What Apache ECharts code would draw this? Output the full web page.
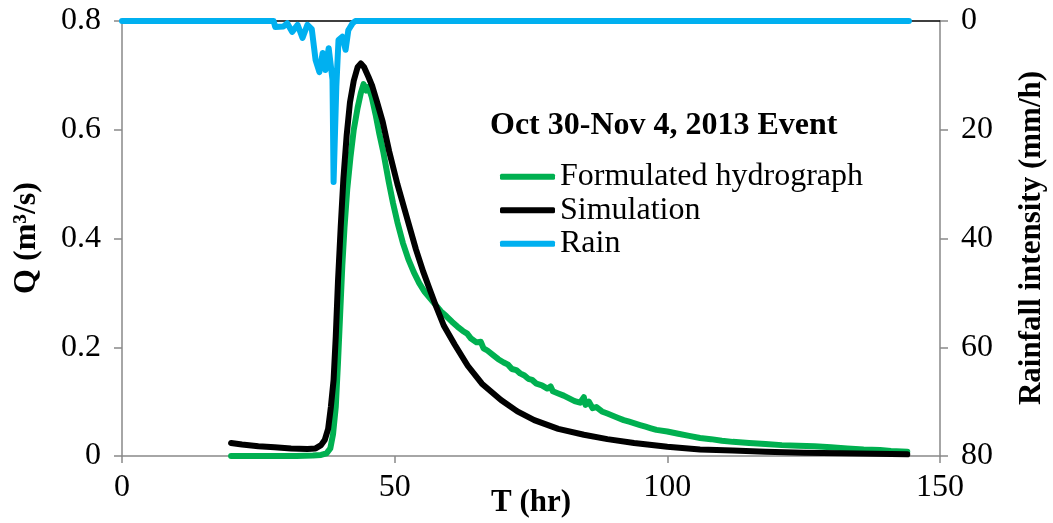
<!DOCTYPE html>
<html>
<head>
<meta charset="utf-8">
<script src="https://cdn.jsdelivr.net/npm/echarts@6/dist/echarts.min.js"></script>
<style>
html,body{margin:0;padding:0;background:#fff;}
#chart{width:1053px;height:523px;}
</style>
</head>
<body>
<div id="chart"></div>
<script>
// ---- data ----
const xTicks = [0, 50, 100, 150];
const qTicks = [0, 0.2, 0.4, 0.6, 0.8];
const rainTicks = [0, 20, 40, 60, 80];
const titleText = "Oct 30-Nov 4, 2013 Event";
const seriesNames = ["Formulated hydrograph", "Simulation", "Rain"];

// Formulated hydrograph [T (hr), Q (m3/s)]
const formulated = [
  [20,0],[24,0],[28,0],[32,0],[35,0.001],[36.5,0.002],[37.5,0.005],[38.2,0.014],[38.7,0.04],
  [39.2,0.09],[39.6,0.17],[40,0.26],[40.4,0.35],[40.8,0.42],[41.3,0.49],[41.9,0.55],[42.5,0.6],
  [43.2,0.64],[43.8,0.668],[44.3,0.684],[44.8,0.672],[45.2,0.679],[45.8,0.66],[46.5,0.628],
  [47.2,0.592],[47.9,0.56],[48.9,0.505],[49.7,0.465],[50.5,0.43],[51.5,0.392],[52.5,0.362],
  [53.5,0.338],[54.5,0.318],[55.5,0.302],[56.5,0.29],[57.5,0.278],[58.5,0.266],[59.5,0.257],
  [60.5,0.247],[61.5,0.238],[62.5,0.23],[63.3,0.225],[64,0.216],[65,0.209],[65.8,0.21],
  [66.3,0.198],[67,0.194],[68,0.186],[69,0.178],[70,0.172],[70.8,0.168],[71.5,0.16],
  [72.3,0.158],[73,0.152],[73.8,0.148],[74.5,0.142],[75.2,0.14],[76,0.133],[77,0.13],
  [78,0.124],[78.6,0.128],[79,0.119],[80,0.115],[81,0.111],[82,0.106],[83,0.101],[84,0.098],
  [84.7,0.108],[85,0.094],[85.6,0.1],[86.3,0.088],[87,0.09],[88,0.082],[89,0.078],[90,0.074],
  [91,0.07],[92,0.066],[93,0.063],[94,0.06],[95,0.057],[96,0.054],[97,0.051],[98,0.048],
  [100,0.045],[102,0.041],[104,0.037],[106,0.033],[108,0.031],[110,0.028],[112,0.026],
  [115,0.024],[118,0.022],[121,0.02],[124,0.019],[127,0.018],[130,0.016],[133,0.014],
  [136,0.012],[139,0.011],[141,0.009],[144,0.008]
];

// Simulation [T (hr), Q (m3/s)]
const simulation = [
  [20,0.024],[22,0.021],[25,0.018],[28,0.016],[31,0.014],[34,0.013],[35.5,0.014],[36.5,0.02],
  [37.2,0.03],[37.8,0.05],[38.3,0.09],[38.8,0.14],[39.2,0.22],[39.6,0.32],[40.1,0.42],
  [40.6,0.51],[41.2,0.59],[41.8,0.65],[42.5,0.69],[43.2,0.715],[43.8,0.722],[44.4,0.715],
  [45.2,0.697],[45.9,0.68],[46.8,0.65],[47.8,0.615],[49,0.56],[50.5,0.5],[52.2,0.44],
  [53.9,0.38],[55.2,0.34],[56.3,0.31],[57.6,0.275],[59,0.24],[61,0.205],[63.4,0.166],
  [66,0.133],[69.5,0.103],[72.5,0.082],[75.6,0.066],[80,0.05],[84.7,0.039],[89,0.031],
  [93.9,0.024],[100,0.017],[106,0.012],[112,0.01],[118,0.008],[125,0.006],[132,0.005],
  [138,0.004],[144,0.003]
];

// Rain [T (hr), intensity (mm/h)]
const rain = [
  [0,0],[27.8,0],[28.1,1.1],[29.6,1.0],[30.3,0.4],[31.2,2.0],[32.2,0.7],[33.1,3.1],[34,0.7],
  [34.8,1.5],[35.5,7.2],[36.2,9.4],[36.8,5.9],[37.3,9.0],[37.9,5.0],[38.6,10.8],[38.8,29.6],
  [39.3,12.1],[39.7,3.5],[40.4,2.9],[41,5.3],[41.5,1.7],[42.3,0.4],[42.8,0],[144.3,0]
];

// ---- chart ----
const FONT = "'Liberation Serif','Times New Roman',serif";
const GREY = '#898989';
const chart = echarts.init(document.getElementById('chart'), null, {renderer: 'canvas'});

const option = {
  animation: false,
  backgroundColor: '#fff',
  grid: {left: 122, right: 113, top: 21, bottom: 67, containLabel: false},
  title: {
    text: titleText, left: 490, top: 110, padding: 0,
    textStyle: {fontFamily: FONT, fontWeight: 'bold', fontSize: 32, color: '#000'}
  },
  legend: {
    orient: 'vertical', left: 500, top: 160, padding: 0, itemWidth: 55, itemHeight: 6, itemGap: 0,
    icon: 'roundRect',
    data: seriesNames,
    textStyle: {fontFamily: FONT, fontSize: 32, color: '#000', lineHeight: 33.5}
  },
  xAxis: [{
    type: 'value', min: xTicks[0], max: xTicks[xTicks.length - 1], interval: 50, position: 'bottom',
    axisLine: {onZero: false, lineStyle: {color: GREY, width: 1.5}},
    axisTick: {show: true, length: 7, lineStyle: {color: GREY, width: 1.5}},
    axisLabel: {fontFamily: FONT, fontSize: 32, color: '#000', margin: 16},
    splitLine: {show: false}
  }, {
    type: 'value', min: xTicks[0], max: xTicks[xTicks.length - 1], position: 'top',
    axisLine: {show: true, onZero: false, lineStyle: {color: '#000', width: 1.5}},
    axisTick: {show: false}, axisLabel: {show: false}, splitLine: {show: false}
  }],
  yAxis: [{
    type: 'value', min: qTicks[0], max: qTicks[qTicks.length - 1], interval: 0.2, position: 'left',
    axisLine: {show: true, onZero: false, lineStyle: {color: GREY, width: 1.5}},
    axisTick: {show: true, length: 8, lineStyle: {color: GREY, width: 1.5}},
    axisLabel: {fontFamily: FONT, fontSize: 32, color: '#000', margin: 21},
    splitLine: {show: false}
  }, {
    type: 'value', min: rainTicks[0], max: rainTicks[rainTicks.length - 1], interval: 20, inverse: true,
    position: 'right',
    axisLine: {show: true, onZero: false, lineStyle: {color: GREY, width: 1.5}},
    axisTick: {show: true, length: 8, lineStyle: {color: GREY, width: 1.5}},
    axisLabel: {fontFamily: FONT, fontSize: 32, color: '#000', margin: 21},
    splitLine: {show: false}
  }],
  series: [{
    name: seriesNames[0], type: 'line', data: formulated, xAxisIndex: 0, yAxisIndex: 0,
    showSymbol: false, color: '#00B050',
    lineStyle: {width: 6, color: '#00B050', cap: 'round', join: 'round'}, z: 2
  }, {
    name: seriesNames[1], type: 'line', data: simulation, xAxisIndex: 0, yAxisIndex: 0,
    showSymbol: false, color: '#000000',
    lineStyle: {width: 6, color: '#000000', cap: 'round', join: 'round'}, z: 3
  }, {
    name: seriesNames[2], type: 'line', data: rain, xAxisIndex: 0, yAxisIndex: 1,
    showSymbol: false, color: '#00B0F0',
    lineStyle: {width: 6, color: '#00B0F0', cap: 'round', join: 'round'}, z: 4
  }],
  graphic: [{
    type: 'text', x: 27, y: 238, rotation: Math.PI / 2,
    style: {text: 'Q (m³/s)', font: 'bold 32px ' + FONT, fill: '#000', textAlign: 'center', textVerticalAlign: 'middle'}
  }, {
    type: 'text', x: 1032, y: 238, rotation: Math.PI / 2,
    style: {text: 'Rainfall intensity (mm/h)', font: 'bold 31px ' + FONT, fill: '#000', textAlign: 'center', textVerticalAlign: 'middle'}
  }, {
    type: 'text', x: 531, y: 503,
    style: {text: 'T (hr)', font: 'bold 31px ' + FONT, fill: '#000', textAlign: 'center', textVerticalAlign: 'middle'}
  }]
};
chart.setOption(option);
</script>
</body>
</html>
